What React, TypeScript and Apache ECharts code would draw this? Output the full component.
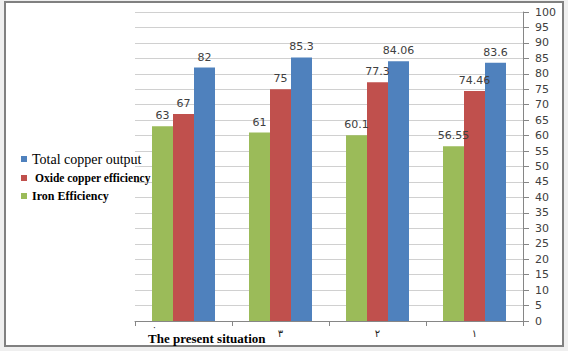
import React, { useEffect, useRef } from "react";
import * as echarts from "echarts";

const categories = ["٠", "٣", "٢", "١"];
const ironEfficiency = [63, 61, 60.1, 56.55];
const oxideCopperEfficiency = [67, 75, 77.3, 74.46];
const totalCopperOutput = [82, 85.3, 84.06, 83.6];
const firstCategoryNote = "The present situation";

export default function App() {
  const ref = useRef<HTMLDivElement>(null);
  useEffect(() => {
    if (!ref.current) return;
    const chart = echarts.init(ref.current, null, { renderer: "svg" });
    const labelStyle = {
      show: true,
      position: "top" as const,
      distance: 5,
      color: "#404040",
      fontSize: 11,
      fontFamily: "DejaVu Sans",
    };
    chart.setOption({
      animation: false,
      backgroundColor: "transparent",
      legend: {
        orient: "vertical",
        left: 16,
        top: 147,
        itemWidth: 6,
        itemHeight: 6,
        itemGap: 6,
        icon: "rect",
        data: [
          { name: "Total copper output", textStyle: { fontFamily: "Liberation Serif", fontSize: 14, color: "#000", fontWeight: "normal" } },
          { name: "Oxide copper efficiency", textStyle: { fontFamily: "Liberation Serif", fontSize: 11.5, color: "#000", fontWeight: "bold", padding: [0, 0, 0, 3] } },
          { name: "Iron Efficiency", textStyle: { fontFamily: "Liberation Serif", fontSize: 12, color: "#000", fontWeight: "bold" } },
        ],
      },
      grid: { left: 135, right: 45, top: 12, bottom: 30 },
      xAxis: {
        type: "category",
        data: categories,
        axisLine: { show: true, lineStyle: { color: "#868686", width: 1 } },
        axisTick: { show: true, length: 5, lineStyle: { color: "#868686" } },
        axisLabel: {
          color: "#222",
          fontSize: 10,
          fontFamily: "DejaVu Sans",
          margin: 3,
          formatter: (v: string, i: number) => (i === 0 ? `{a|${v}}` : `{b|${v}}`),
          rich: {
            a: { padding: [0, 58, 0, 0], fontSize: 9, lineHeight: 5, color: "#222" },
            b: { padding: [4, 0, 0, 0], fontSize: 10, color: "#222" },
          },
        },
      },
      yAxis: {
        type: "value",
        position: "right",
        min: 0,
        max: 100,
        interval: 5,
        axisLine: { show: true, lineStyle: { color: "#868686" } },
        axisTick: { show: true, length: 6, lineStyle: { color: "#868686" } },
        axisLabel: { color: "#404040", fontSize: 11, fontFamily: "DejaVu Sans", margin: 12 },
        splitLine: { show: true, lineStyle: { color: "#d0d0d0" } },
      },
      series: [
        { name: "Iron Efficiency", type: "bar", data: ironEfficiency, barWidth: 21, barGap: "0%", itemStyle: { color: "#9bbb59" }, label: labelStyle },
        { name: "Oxide copper efficiency", type: "bar", data: oxideCopperEfficiency, barWidth: 21, barGap: "0%", itemStyle: { color: "#c0504d" }, label: labelStyle },
        { name: "Total copper output", type: "bar", data: totalCopperOutput, barWidth: 21, barGap: "0%", itemStyle: { color: "#4f81bd" }, label: labelStyle },
      ],
      graphic: [
        {
          type: "text",
          left: 148,
          top: 332,
          style: { text: firstCategoryNote, fontFamily: "Liberation Serif", fontWeight: "bold", fontSize: 13, fill: "#000" },
        },
      ],
    });
    return () => chart.dispose();
  }, []);
  return (
    <div style={{ position: "fixed", left: 0, top: 0, width: 568, height: 351, background: "#efefef" }}>
      <div style={{ position: "absolute", left: 4, top: 1, width: 556, height: 342, border: "2px solid #808080", background: "#fff" }} />
      <div ref={ref} style={{ position: "absolute", left: 0, top: 0, width: 568, height: 351 }} />
    </div>
  );
}
